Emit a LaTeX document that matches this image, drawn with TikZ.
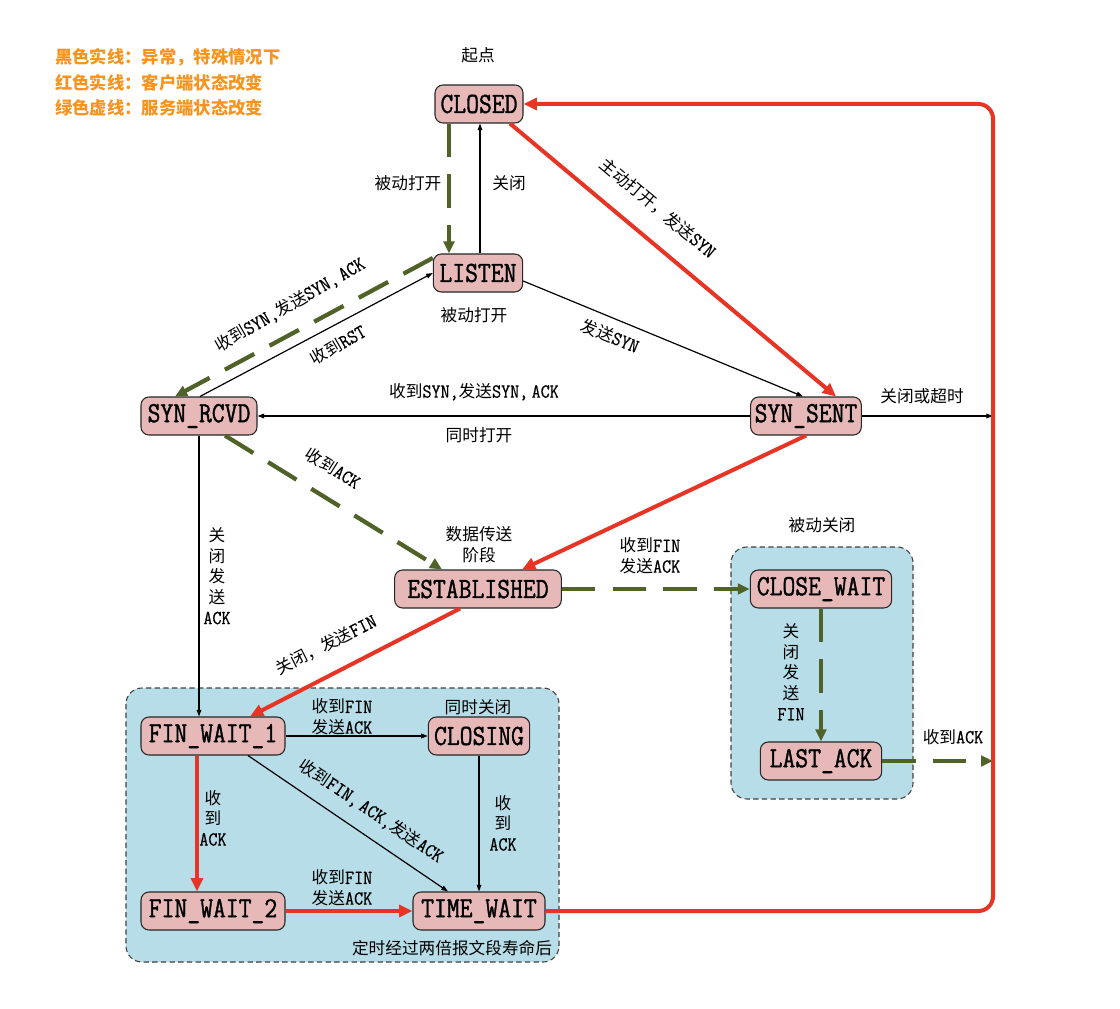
\documentclass[tikz,border=0pt]{standalone}
\usepackage{fontspec}
\usepackage{tikz}
\usetikzlibrary{positioning,calc,arrows.meta}
\setmainfont{Noto Sans CJK SC}
\newfontfamily\statefont[FakeStretch=0.85,FakeBold=1.2]{Latin Modern Mono}
\newfontfamily\enfont[FakeStretch=0.88,FakeBold=0.6,Scale=1.2]{Latin Modern Mono}
\newcommand{\en}[1]{{\enfont #1}}
\definecolor{clientred}{RGB}{232,52,36}
\definecolor{servergreen}{HTML}{4F6228}
\definecolor{statepink}{HTML}{E6B9B8}
\definecolor{regionblue}{HTML}{B7DDE8}
\definecolor{legendorange}{RGB}{247,148,30}

\begin{document}
\begin{tikzpicture}[x=0.75pt,y=-0.75pt,
    state/.style={rectangle,rounded corners=6pt,draw=black!85,line width=0.8pt,fill=statepink,minimum height=28.5pt,inner sep=0pt,font=\statefont\fontsize{22}{22}\selectfont},
    lbl/.style={font=\fontsize{12.5}{15.5}\selectfont,align=center,inner sep=0pt},
    legend/.style={font=\bfseries\fontsize{13}{13}\selectfont,text=legendorange,inner sep=0pt,anchor=west},
    region/.style={fill=regionblue,draw=black!75,line width=0.8pt,dash pattern=on 4pt off 2.5pt,rounded corners=12pt},
    client/.style={draw=clientred,line width=3pt,-{Triangle[length=10pt,width=9pt]}},
    server/.style={draw=servergreen,line width=3.2pt,dash pattern=on 25pt off 13pt,-{Triangle[length=9pt,width=8pt]}},
    other/.style={draw=black,line width=0.9pt,-{Triangle[length=5pt,width=3.5pt]}}]
    \useasboundingbox (0,0) rectangle (1120,1009);

    % legend
    \node[legend] (key1) at (55,57) {黑色实线：异常，特殊情况下};
    \node[legend] (key2) at (55,83) {红色实线：客户端状态改变};
    \node[legend] (key3) at (55,108) {绿色虚线：服务端状态改变};

    % shaded groups
    \draw[region] (126,688) rectangle (559,962);
    \draw[region] (731,547) rectangle (913,799);

    % states
    \node[state,minimum width=66pt] (closed) at (479,104) {CLOSED};
    \node[state,minimum width=67pt] (listen) at (478,273) {LISTEN};
    \node[state,minimum width=87pt] (synrcvd) at (199,416) {SYN\_RCVD};
    \node[state,minimum width=83pt] (synsent) at (806,416) {SYN\_SENT};
    \node[state,minimum width=125pt] (established) at (478,589) {ESTABLISHED};
    \node[state,minimum width=106pt] (closewait) at (821,589) {CLOSE\_WAIT};
    \node[state,minimum width=91pt] (lastack) at (821,761) {LAST\_ACK};
    \node[state,minimum width=108pt] (finwait1) at (213,736) {FIN\_WAIT\_1};
    \node[state,minimum width=76pt] (closing) at (479,736) {CLOSING};
    \node[state,minimum width=108pt] (finwait2) at (213,911) {FIN\_WAIT\_2};
    \node[state,minimum width=99pt] (timewait) at (479,911) {TIME\_WAIT};
    \coordinate (ret) at (993,416);

    % transitions
    \draw[server] ($(closed.south)+(-30,0)$) -- ($(listen.north)+(-29,0)$);
    \draw[other] ($(listen.north)+(2,0)$) -- ($(closed.south)+(1,0)$);
    \draw[client] ($(closed.south)+(31,0)$) -- ($(synsent.north)+(30,0)$);
    \draw[other] ($(listen.east)+(0,8)$) -- ($(synsent.north)+(-3,0)$);
    \draw[other] (synsent.west) -- (synrcvd.east);
    \draw[other] (synsent.east) -- (synsent.east -| ret);
    \draw[server] ($(listen.west)+(0,-15)$) -- ($(synrcvd.north)+(-24,0)$);
    \draw[other] ($(synrcvd.north)+(1,0)$) -- (listen.west);
    \draw[server] ($(synrcvd.south)+(26,0)$) -- ($(established.north)+(-36,0)$);
    \draw[other] (synrcvd.south) -- (synrcvd.south |- finwait1.north);
    \draw[client] (synsent.south) -- ($(established.north)+(44,0)$);
    \draw[server] (established.east) -- (closewait.west);
    \draw[server] (closewait.south) -- (lastack.north);
    \draw[server] (lastack.east) -- (lastack.east -| ret);
    \draw[client] ($(established.south)+(-18,0)$) -- ($(finwait1.north)+(37,0)$);
    \draw[other] (finwait1.east) -- (closing.west);
    \draw[other] ($(finwait1.south)+(35,0)$) -- ($(timewait.north)+(-31,0)$);
    \draw[other] (closing.south) -- (timewait.north);
    \draw[client] ($(finwait1.south)+(-16,0)$) -- ($(finwait2.north)+(-16,0)$);
    \draw[client] (finwait2.east) -- (timewait.west);
    \draw[client,rounded corners=11pt] (timewait.east) -- (timewait.east -| ret) -- (closed.east -| ret) -- (closed.east);

    % labels
    \node[lbl] (lStart) at (478,55) {起点};
    \node[lbl] (lPassiveOpen) at (408,183) {被动打开};
    \node[lbl] (lClose) at (509,183) {关闭};
    \node[lbl,rotate=-40] (lActiveOpen) at (658,208) {主动打开，发送\en{SYN}};
    \node[lbl] (lListen) at (474,315) {被动打开};
    \node[lbl,rotate=-22] (lSendSyn) at (610,336) {发送\en{SYN}};
    \node[lbl,rotate=30] (lRecvSyn) at (290,305) {收到\en{SYN,}发送\en{SYN,\,ACK}};
    \node[lbl,rotate=30] (lRst) at (338,345) {收到\en{RST}};
    \node[lbl] (lSimOpen1) at (474,392) {收到\en{SYN,}发送\en{SYN,\,ACK}};
    \node[lbl] (lSimOpen2) at (479,435) {同时打开};
    \node[lbl] (lTimeout) at (922,396) {关闭或超时};
    \node[lbl,rotate=-32] (lRecvAck) at (333,468) {收到\en{ACK}};
    \node[lbl] (lCloseAck) at (217,576) {关\\闭\\发\\送\\\en{ACK}};
    \node[lbl] (lData) at (479,545) {数据传送\\阶段};
    \node[lbl] (lFinAck) at (650,556) {收到\en{FIN}\\发送\en{ACK}};
    \node[lbl] (lPassiveClose) at (822,525) {被动关闭};
    \node[lbl] (lCloseFin) at (791,672) {关\\闭\\发\\送\\\en{FIN}};
    \node[lbl] (lLastAck) at (953,737) {收到\en{ACK}};
    \node[lbl,rotate=27] (lSendFin) at (326,645) {关闭，发送\en{FIN}};
    \node[lbl] (lSimClose) at (478,707) {同时关闭};
    \node[lbl] (lFinAck1) at (342,717) {收到\en{FIN}\\发送\en{ACK}};
    \node[lbl,rotate=-34] (lFinAckAck) at (371,811) {收到\en{FIN,\,ACK,}发送\en{ACK}};
    \node[lbl] (lAck1) at (213,818) {收\\到\\\en{ACK}};
    \node[lbl] (lAck2) at (503,823) {收\\到\\\en{ACK}};
    \node[lbl] (lFinAck2) at (342,888) {收到\en{FIN}\\发送\en{ACK}};
    \node[lbl] (lTimer) at (452,948) {定时经过两倍报文段寿命后};
\end{tikzpicture}
\end{document}
